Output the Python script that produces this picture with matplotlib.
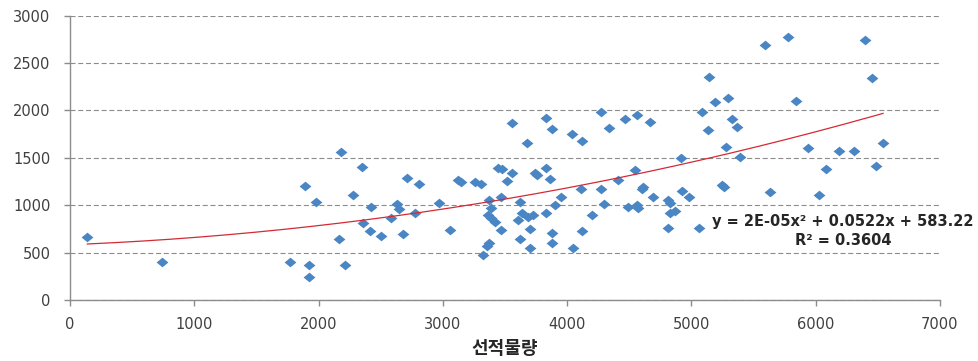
import numpy as np
import matplotlib
matplotlib.use("Agg")
import matplotlib.pyplot as plt
from matplotlib.path import Path

plt.rcParams['font.family'] = ['DejaVu Sans', 'Noto Sans CJK KR']

# Shipment volume (x) against the response variable (y)
ship_volume = [
    140, 740, 1770, 1890, 1980, 1925, 1925, 2165, 2180, 2210,
    2275, 2350, 2360, 2425, 2415, 2500, 2580, 2630, 2645, 2682,
    2715, 2776, 2812, 2968, 3055, 3125, 3145, 3262, 3310, 3375,
    3392, 3365, 3392, 3420, 3374, 3352, 3325, 3448, 3473, 3470,
    3470, 3513, 3561, 3561, 3620, 3607, 3634, 3620, 3674, 3687,
    3701, 3701, 3728, 3741, 3760, 3830, 3832, 3830, 3865, 3880,
    3880, 3880, 3902, 3948, 4040, 4050, 4120, 4112, 4120, 4197,
    4275, 4275, 4300, 4339, 4411, 4465, 4488, 4565, 4550, 4562,
    4666, 4612, 4600, 4572, 4693, 4813, 4827, 4827, 4867, 4813,
    4921, 4928, 4982, 5060, 5090, 5135, 5143, 5189, 5250, 5265,
    5296, 5283, 5331, 5368, 5395, 5597, 5637, 5779, 5841, 5940,
    6028, 6082, 6189, 6310, 6401, 6455, 6485, 6543,
]
response = [
    660, 405, 405, 1205, 1035, 365, 240, 640, 1560, 365,
    1110, 1405, 815, 985, 730, 675, 862, 1015, 960, 700,
    1290, 918, 1228, 1025, 740, 1265, 1245, 1250, 1228, 1055,
    967, 900, 862, 826, 598, 565, 470, 1390, 1380, 1090,
    740, 1252, 1343, 1870, 1030, 844, 914, 640, 1653, 879,
    745, 550, 900, 1336, 1318, 1922, 1395, 914, 1278, 1800,
    703, 598, 1000, 1092, 1755, 550, 1675, 1168, 730, 900,
    1985, 1170, 1010, 1818, 1262, 1908, 984, 1950, 1368, 1005,
    1881, 1196, 1168, 970, 1090, 1055, 1020, 921, 939, 763,
    1495, 1153, 1090, 763, 1987, 1793, 2356, 2092, 1210, 1195,
    2128, 1618, 1910, 1829, 1512, 2690, 1136, 2771, 2103, 1600,
    1108, 1379, 1572, 1572, 2743, 2342, 1417, 1653,
]

# Polynomial (order 2) trendline coefficients and fit quality
trend_coef = [2.44e-05, 0.0522, 583.22]
r_squared = 0.3604

x_ticks = [0, 1000, 2000, 3000, 4000, 5000, 6000, 7000]
y_ticks = [0, 500, 1000, 1500, 2000, 2500, 3000]

fig = plt.figure(figsize=(9.79, 3.61), dpi=100)
ax = fig.add_axes([0.0715, 0.169, 0.8885, 0.7875])

axis_grey = '#8c8c8c'
text_grey = '#404040'

# flattened diamond marker
diamond = Path([(-1.0, 0.0), (0.0, 0.82), (1.0, 0.0), (0.0, -0.82), (-1.0, 0.0)],
               [Path.MOVETO, Path.LINETO, Path.LINETO, Path.LINETO, Path.CLOSEPOLY])

ax.plot(ship_volume, response, linestyle='none', marker=diamond,
        markersize=8.5, color='#4a86c4', markeredgewidth=0, zorder=3)

xs = np.linspace(min(ship_volume), max(ship_volume), 200)
ax.plot(xs, np.polyval(trend_coef, xs), color='#d42a35', lw=0.9, zorder=4)

ax.set_xlim(0, 7000)
ax.set_ylim(0, 3000)
ax.set_xticks(x_ticks)
ax.set_yticks(y_ticks)
ax.yaxis.grid(True, color=axis_grey, lw=0.8, dashes=(4.5, 2.5))
ax.set_axisbelow(True)

for side in ('top', 'right'):
    ax.spines[side].set_visible(False)
for side in ('left', 'bottom'):
    ax.spines[side].set_color(axis_grey)
    ax.spines[side].set_linewidth(1.0)

ax.tick_params(axis='both', colors=axis_grey, length=4, width=1.0,
               labelcolor=text_grey, labelsize=10.5)
ax.tick_params(axis='y', pad=10)
ax.tick_params(axis='x', pad=8)

ax.set_xlabel('선적물량', family=['Noto Sans CJK KR'], fontweight='bold',
              fontsize=13, color='#262626', labelpad=5)

a, b, c = trend_coef
eq = f"y = {'%.0E' % a}x² + {b:.4f}x + {c:.2f}"
ax.text(6219, 826, eq, ha='center', va='center', fontsize=10.5,
        fontweight='bold', color='#262626', clip_on=False)
ax.text(6219, 633, f"R² = {r_squared:.4f}", ha='center', va='center',
        fontsize=10.5, fontweight='bold', color='#262626', clip_on=False)

fig.savefig('out.png', dpi=100)
